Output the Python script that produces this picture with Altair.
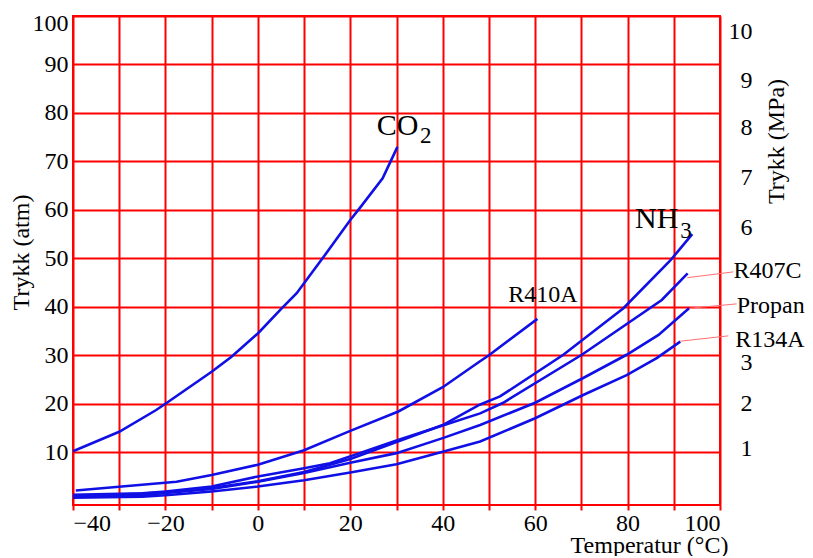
import altair as alt
import pandas as pd

FONT = "Liberation Serif"

# ---- data (temperature in °C, pressure in atm) ----
co2_t = [-40, -30, -22, -20, -10, -5.7, 0, 5, 8.4, 14, 20, 22, 27, 30.2]
co2_p = [10.2, 14.2, 18.7, 20.0, 26.6, 29.7, 34.5, 39.5, 42.8, 50.0, 57.9, 60.3, 66.5, 73.0]

r410a_t = [-39.4, -17.6, -10, 0, 10, 20, 30.4, 40, 48, 50, 60.5]
r410a_p = [2.1, 3.9, 5.3, 7.4, 10.4, 14.4, 18.4, 23.4, 28.7, 30.0, 37.5]

nh3_t = [-40, -30, -20, -10, 0, 10, 20, 30, 40, 48, 52.4, 66.1, 79.1, 89.2, 94]
nh3_p = [0.9, 1.2, 1.7, 2.6, 4.0, 5.9, 8.6, 12.1, 15.6, 19.8, 21.5, 30.1, 39.7, 49.5, 55.0]

r407c_t = [-40, -25, -20, -10, 0, 10, 15.6, 22, 30, 40, 48.1, 53.1, 70.1, 87.4, 93]
r407c_p = [1.2, 1.5, 1.9, 2.9, 5.0, 6.7, 7.7, 9.8, 12.4, 15.5, 18.0, 20.2, 30.1, 41.4, 46.9]

propan_t = [-40, -25, -20, -10, 0, 10, 20, 30, 40, 48.1, 60, 70.4, 79.8, 86.7, 93.3]
propan_p = [0.9, 1.1, 1.6, 2.4, 3.9, 5.7, 7.8, 9.8, 12.9, 15.6, 20.2, 25.3, 30.1, 34.2, 39.7]

r134a_t = [-40, -25, -20, -10, 0, 10, 20, 30, 40, 48.1, 60, 70.4, 79.8, 86.3, 91.4]
r134a_p = [0.6, 0.8, 1.1, 1.9, 2.9, 4.2, 5.8, 7.5, 10.1, 12.2, 17.0, 21.8, 25.9, 29.4, 32.8]

# annotation texts and their anchor points (data coordinates)
label_text = ["CO", "2", "NH", "3", "R410A", "R407C", "Propan", "R134A"]
label_t = [25.7, 35.1, 81.6, 91.4, 54.2, 102.9, 103.6, 103.3]
label_p = [75.4, 73.7, 56.2, 54.1, 41.0, 46.0, 38.8, 31.8]
label_size = [30, 23, 30, 23, 24, 24, 24, 24]

# leader lines from curve ends to labels
leader_t1 = [92.9, 93.5, 91.4]
leader_p1 = [46.0, 39.7, 32.9]
leader_t2 = [102.9, 103.6, 101.8]
leader_p2 = [47.2, 40.6, 34.0]

x_ticks = list(range(-40, 101, 10))
y_ticks = list(range(10, 101, 10))
mpa_ticks = [10, 9, 8, 7, 6, 3, 2, 1]

# ---- tables ----
series = [
    ("CO2", co2_t, co2_p),
    ("R410A", r410a_t, r410a_p),
    ("NH3", nh3_t, nh3_p),
    ("R407C", r407c_t, r407c_p),
    ("Propan", propan_t, propan_p),
    ("R134A", r134a_t, r134a_p),
]
rows = []
for name, ts, ps in series:
    for i, (t, p) in enumerate(zip(ts, ps)):
        rows.append({"series": name, "T": t, "P": p, "order": i})
df = pd.DataFrame(rows)

labels_df = pd.DataFrame({"txt": label_text, "T": label_t, "P": label_p, "fs": label_size})
leaders_df = pd.DataFrame({"T": leader_t1, "P": leader_p1, "T2": leader_t2, "P2": leader_p2})
mpa_df = pd.DataFrame({"mpa": mpa_ticks})

x_scale = alt.Scale(domain=[-40, 100], nice=False, zero=False)
y_scale = alt.Scale(domain=[-0.9, 100], nice=False, zero=False)
# the MPa labels of the original sit a little irregularly; a piecewise scale keeps them there
mpa_scale = alt.Scale(domain=mpa_ticks,
                      range=[15.3, 64.8, 111.0, 161.8, 211.3, 346.3, 387.3, 432.8],
                      zero=False, nice=False)

x_axis = alt.Axis(
    values=x_ticks,
    labelExpr="datum.value % 20 == 0 ? datum.label : ''",
    grid=True, gridColor="#ff0000", gridWidth=2, gridOpacity=1,
    ticks=True, tickColor="#ff0000", tickWidth=2, tickSize=5,
    domain=False,
    labelFont=FONT, labelFontSize=24, labelColor="black", labelPadding=1,
    title="Temperatur (°C)", titleFont=FONT, titleFontSize=24, titleFontWeight="normal",
    titleColor="black", titleX=576, titleY=40, titleAlign="center", titleBaseline="middle",
)
y_axis = alt.Axis(
    values=y_ticks,
    grid=True, gridColor="#ff0000", gridWidth=2, gridOpacity=1,
    ticks=False, domain=False,
    labelFont=FONT, labelFontSize=24, labelColor="black", labelPadding=5,
    labelFlush=True, labelFlushOffset=5,
    title="Trykk (atm)", titleFont=FONT, titleFontSize=24, titleFontWeight="normal",
    titleColor="black", titleX=-52, titleY=236, titleAngle=270,
    titleAlign="center", titleBaseline="middle",
)

lines = alt.Chart(df).mark_line(color="#1010e6", strokeWidth=2.6).encode(
    x=alt.X("T:Q", scale=x_scale, axis=x_axis),
    y=alt.Y("P:Q", scale=y_scale, axis=y_axis),
    detail="series:N",
    order="order:Q",
)

leaders = alt.Chart(leaders_df).mark_rule(color="#ff7070", strokeWidth=1).encode(
    x=alt.X("T:Q", scale=x_scale),
    y=alt.Y("P:Q", scale=y_scale, axis=None),
    x2="T2:Q",
    y2="P2:Q",
)

texts = alt.Chart(labels_df).mark_text(
    font=FONT, align="left", baseline="alphabetic", color="black"
).encode(
    x=alt.X("T:Q", scale=x_scale),
    y=alt.Y("P:Q", scale=y_scale, axis=None),
    text="txt:N",
    size=alt.Size("fs:Q", scale=None, legend=None),
)

right = alt.Chart(mpa_df).mark_point(opacity=0).encode(
    y=alt.Y(
        "mpa:Q",
        scale=mpa_scale,
        axis=alt.Axis(
            orient="right", values=mpa_ticks, grid=False, ticks=False, domain=False,
            labelFont=FONT, labelFontSize=24, labelColor="black",
            labelAlign="right", labelPadding=32,
            title="Trykk (MPa)", titleFont=FONT, titleFontSize=24, titleFontWeight="normal",
            titleColor="black", titleX=56, titleY=125, titleAngle=270,
            titleAlign="center", titleBaseline="middle",
        ),
    )
)

chart = (
    alt.layer(lines, leaders, texts, right)
    .resolve_scale(y="independent")
    .properties(
        width=647, height=489,
        autosize=alt.AutoSizeParams(type="none"),
        padding={"left": 65, "top": 8, "right": 85, "bottom": 51},
        background="white",
    )
    .configure(font=FONT)
    .configure_axis(labelFont=FONT, titleFont=FONT)
    .configure_text(font=FONT)
    .configure_view(stroke="#ff0000", strokeWidth=2)
)

chart.save("out.html", embed_options={"renderer": "svg", "actions": False})
